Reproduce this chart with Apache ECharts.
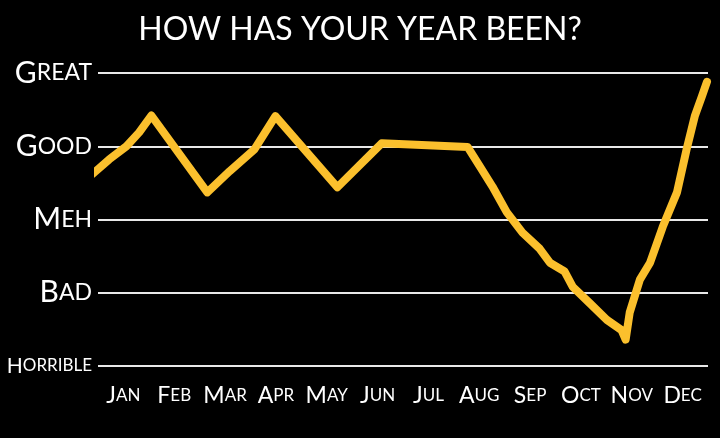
<!DOCTYPE html>
<html>
<head>
<meta charset="utf-8">
<script src="https://cdn.jsdelivr.net/npm/echarts@6/dist/echarts.min.js"></script>
<style>
html,body{margin:0;padding:0;background:#000;}
#chart{width:720px;height:438px;}
</style>
</head>
<body>
<div id="chart"></div>
<script>
// months along the bottom
var months = ['Jan','Feb','Mar','Apr','May','Jun','Jul','Aug','Sep','Oct','Nov','Dec'];
// mood levels, bottom to top
var moods = ['Horrible','Bad','Meh','Good','Great'];
// hand drawn line, x in month units (0..12), y in mood units (0..4)
var lineX = [-0.11,0.22,0.56,0.81,1.05,2.15,2.59,3.08,3.49,4.71,5.58,7.27,7.57,7.76,8.04,8.35,8.69,8.89,9.18,9.34,9.67,10.01,10.30,10.38,10.46,10.66,10.86,11.11,11.39,11.58,11.74,11.88,11.98];
var lineY = [2.62,2.82,3.00,3.19,3.42,2.37,2.66,2.96,3.41,2.44,3.04,2.99,2.66,2.45,2.10,1.82,1.60,1.41,1.29,1.08,0.86,0.63,0.49,0.36,0.73,1.18,1.41,1.90,2.37,2.96,3.41,3.68,3.88];

var font = 'Lato';

// fake small caps: first letter big, rest uppercase and smaller
function smallCaps(s){
	return '{a|'+s.charAt(0).toUpperCase()+'}{b|'+s.slice(1).toUpperCase()+'}';
}

var pts = [];
for(var i=0;i<lineX.length;i++){
	pts.push([lineX[i], lineY[i]]);
}

var dom = echarts.init(document.getElementById('chart'));
var option = {
	backgroundColor: '#000',
	animation: false,
	title: {
		text: 'HOW HAS YOUR YEAR BEEN?',
		left: 'center',
		top: 9,
		textStyle: {color:'#fff', fontFamily:font, fontWeight:'normal', fontSize:32}
	},
	grid: {left:98, right:12, top:73, bottom:72},
	xAxis: [{
		type: 'category',
		data: months,
		boundaryGap: true,
		axisLine: {show:false},
		axisTick: {show:false},
		splitLine: {show:false},
		axisLabel: {
			interval: 0,
			margin: 18,
			formatter: function(v){ return smallCaps(v); },
			rich: {
				a: {color:'#fff', fontFamily:font, fontSize:23},
				b: {color:'#fff', fontFamily:font, fontSize:17}
			}
		}
	},{
		type: 'value',
		min: 0,
		max: 12,
		show: false
	}],
	yAxis: {
		type: 'value',
		min: 0,
		max: 4,
		interval: 1,
		axisLine: {show:false},
		axisTick: {show:false},
		splitLine: {lineStyle:{color:'#e8e8e8', width:2}},
		axisLabel: {
			margin: 6,
			formatter: function(v){
				var s = smallCaps(moods[v]);
				return v==0 ? s.replace('{a|','{c|').replace('{b|','{d|') : s;
			},
			rich: {
				a: {color:'#fff', fontFamily:font, fontSize:30},
				b: {color:'#fff', fontFamily:font, fontSize:23},
				c: {color:'#fff', fontFamily:font, fontSize:21},
				d: {color:'#fff', fontFamily:font, fontSize:17}
			}
		}
	},
	series: [{
		type: 'line',
		xAxisIndex: 1,
		data: pts,
		showSymbol: false,
		clip: false,
		lineStyle: {color:'#fbc02d', width:8, cap:'round', join:'round'}
	}]
};
dom.setOption(option);
</script>
</body>
</html>
